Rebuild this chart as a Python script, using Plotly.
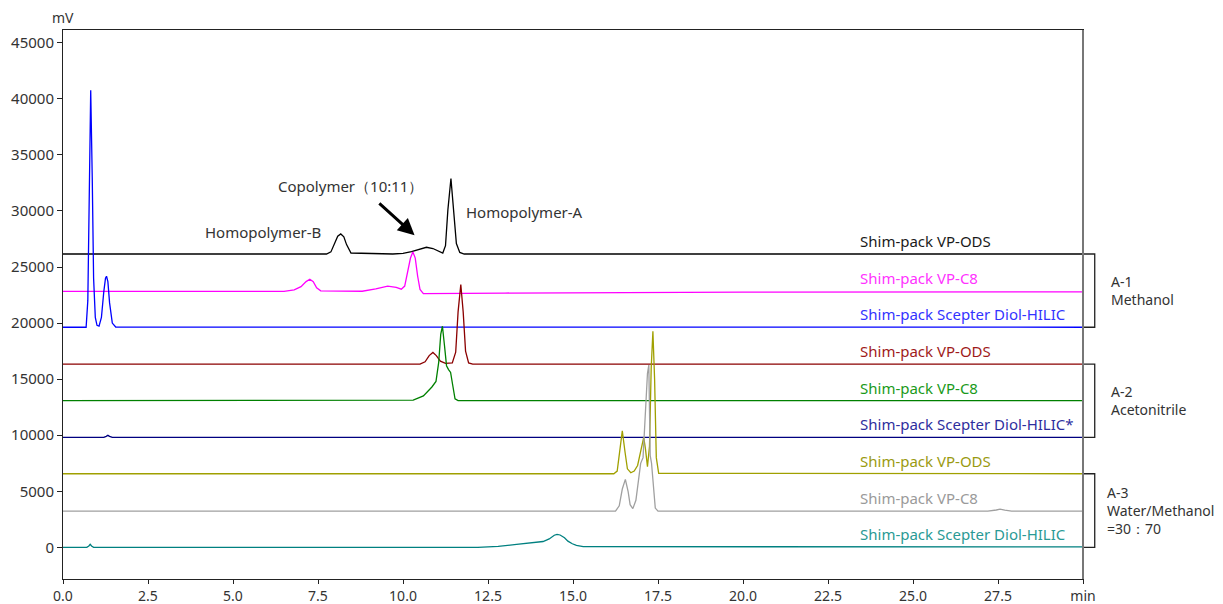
import plotly.graph_objects as go

# ---------------- data ----------------
ods_a1_t = [0, 7.75, 7.88, 8.0, 8.08, 8.17, 8.26, 8.34, 8.47, 9.7, 10.0, 10.25, 10.5, 10.69, 10.88, 11.05, 11.17,
            11.25, 11.32, 11.41, 11.5, 11.57, 11.67, 11.8, 30]
ods_a1_v = [26160, 26160, 26350, 27150, 27750, 27950, 27700, 27000, 26250, 26160, 26220, 26380, 26630, 26760, 26650,
            26380, 26250, 26900, 30100, 32890, 30000, 27100, 26300, 26160, 26160]

c8_a1_t = [0, 6.5, 6.8, 7.0, 7.15, 7.26, 7.36, 7.46, 7.58, 8.8, 9.2, 9.55, 9.8, 9.95, 10.05, 10.15, 10.22, 10.29,
           10.36, 10.43, 10.5, 10.6, 13.0, 20.0, 30]
c8_a1_v = [22820, 22830, 22960, 23250, 23700, 23910, 23700, 23150, 22880, 22840, 23050, 23290, 23180, 23020, 23300,
           24600, 25800, 26350, 25800, 24200, 23000, 22620, 22680, 22760, 22790]

diol_a1_t = [0, 0.68, 0.73, 0.77, 0.815, 0.86, 0.9, 0.95, 1.0, 1.06, 1.13, 1.2, 1.25, 1.28, 1.32, 1.37, 1.45, 1.55, 30]
diol_a1_v = [19630, 19630, 22000, 33000, 40760, 33000, 24000, 20500, 19800, 19720, 20500, 22800, 24000, 24180, 23700,
             21800, 20000, 19650, 19630]

ods_a2_t = [0, 10.5, 10.65, 10.77, 10.88, 10.98, 11.1, 11.25, 11.45, 11.55, 11.62, 11.7, 11.77, 11.84, 11.93, 12.05, 30]
ods_a2_v = [16340, 16340, 16550, 17100, 17380, 17100, 16600, 16400, 16450, 17400, 21000, 23440, 21000, 17500, 16450,
            16340, 16340]

c8_a2_t = [0, 10.0, 10.3, 10.6, 10.85, 10.97, 11.05, 11.11, 11.16, 11.22, 11.28, 11.34, 11.4, 11.46, 11.53, 11.62, 30]
c8_a2_v = [13080, 13080, 13130, 13500, 14300, 14800, 16500, 19000, 19720, 18000, 16200, 15850, 15600, 14500, 13250,
           13080, 13080]

diol_a2_t = [0, 1.2, 1.27, 1.32, 1.37, 1.45, 30]
diol_a2_v = [9800, 9800, 9900, 9990, 9900, 9800, 9800]

ods_a3_t = [0, 16.2, 16.3, 16.37, 16.45, 16.53, 16.6, 16.7, 16.8, 16.9, 16.98, 17.04, 17.08, 17.13, 17.19, 17.25,
            17.3, 17.35, 17.4, 17.45, 17.52, 30]
ods_a3_v = [6560, 6560, 6800, 8600, 10390, 8500, 7000, 6650, 6800, 7300, 8400, 9500, 9800, 8800, 7200, 9000, 16000,
            19280, 15000, 8000, 6600, 6560]

c8_a3_t = [0, 16.25, 16.36, 16.45, 16.54, 16.62, 16.68, 16.76, 16.85, 16.93, 16.99, 17.06, 17.13, 17.19, 17.23, 17.27,
           17.31, 17.36, 17.42, 17.5, 27.2, 27.45, 27.56, 27.7, 27.9, 30]
c8_a3_v = [3230, 3230, 3700, 5200, 6060, 5000, 3800, 3450, 4200, 6200, 7490, 8000, 11500, 15500, 16250, 8200, 7500,
           5500, 3500, 3230, 3230, 3330, 3400, 3320, 3230, 3230]

diol_a3_t = [0, 0.7, 0.76, 0.8, 0.84, 0.9, 12.2, 12.8, 13.34, 13.8, 14.12, 14.3, 14.45, 14.53, 14.62, 14.75, 14.85,
             14.98, 15.1, 15.3, 30]
diol_a3_v = [0, 0, 120, 270, 120, 0, 0, 80, 270, 400, 520, 750, 1080, 1160, 1100, 850, 550, 320, 170, 60, 40]

column_names = ["Shim-pack VP-ODS", "Shim-pack VP-C8", "Shim-pack Scepter Diol-HILIC",
                "Shim-pack VP-ODS", "Shim-pack VP-C8", "Shim-pack Scepter Diol-HILIC*",
                "Shim-pack VP-ODS", "Shim-pack VP-C8", "Shim-pack Scepter Diol-HILIC"]
baselines = [26160, 22820, 19630, 16340, 13080, 9800, 6560, 3230, 0]
group_labels = ["A-1<br>Methanol", "A-2<br>Acetonitrile", "A-3<br>Water/Methanol<br>=30：70"]
group_top = [26160, 16340, 6560]
group_bottom = [19630, 9800, 0]

x_ticks = [0, 2.5, 5, 7.5, 10, 12.5, 15, 17.5, 20, 22.5, 25, 27.5, 30]
x_ticktext = ["0.0", "2.5", "5.0", "7.5", "10.0", "12.5", "15.0", "17.5", "20.0", "22.5", "25.0", "27.5", "min"]
y_ticks = [0, 5000, 10000, 15000, 20000, 25000, 30000, 35000, 40000, 45000]

# ---------------- figure ----------------
series = [(ods_a1_t, ods_a1_v), (c8_a1_t, c8_a1_v), (diol_a1_t, diol_a1_v),
          (ods_a2_t, ods_a2_v), (c8_a2_t, c8_a2_v), (diol_a2_t, diol_a2_v),
          (ods_a3_t, ods_a3_v), (c8_a3_t, c8_a3_v), (diol_a3_t, diol_a3_v)]
colors = ["#000000", "#ff00ff", "#0000ff", "#8b0000", "#008000", "#000080", "#a0a000", "#a0a0a0", "#008080"]
label_colors = ["#1a1a1a", "#ff33ff", "#3333ff", "#a01a1a", "#1a9a1a", "#2e2e9e", "#9a9a10", "#9a9a9a", "#2a9a95"]

FONT = "Noto Sans"
fig = go.Figure()
for (t, v), c in zip(series, colors):
    fig.add_trace(go.Scatter(x=t, y=v, mode="lines", line=dict(color=c, width=1.3), showlegend=False,
                             hoverinfo="skip"))

annotations = []
for name, base, lc in zip(column_names, baselines, label_colors):
    annotations.append(dict(x=23.37, y=base, xref="x", yref="y", text=name, showarrow=False,
                            xanchor="left", yanchor="middle", yshift=13,
                            font=dict(family=FONT, size=15, color=lc)))

shapes = []
group_x = [1.025, 1.025, 1.022]
for lab, top, bot, gx in zip(group_labels, group_top, group_bottom, group_x):
    xb = 1.0115
    shapes.append(dict(type="path", xref="paper", yref="y",
                       path=f"M 1.0,{top} L {xb},{top} L {xb},{bot} L 1.0,{bot}",
                       line=dict(color="#222", width=1.3)))
    annotations.append(dict(x=gx, y=(top + bot) / 2, xref="paper", yref="y", text=lab, showarrow=False,
                            xanchor="left", yanchor="middle", align="left",
                            font=dict(family=FONT, size=14, color="#333")))

# peak annotations
annotations += [
    dict(x=5.89, y=28130, xref="x", yref="y", text="Homopolymer-B", showarrow=False,
         font=dict(family=FONT, size=15, color="#333")),
    dict(x=8.46, y=32200, xref="x", yref="y", text="Copolymer（10:11）", showarrow=False,
         font=dict(family=FONT, size=15, color="#333")),
    dict(x=13.58, y=29890, xref="x", yref="y", text="Homopolymer-A", showarrow=False,
         font=dict(family=FONT, size=15, color="#333")),
    dict(x=10.34, y=27840, xref="x", yref="y", ax=9.26, ay=30800, axref="x", ayref="y", text="",
         showarrow=True, arrowhead=2, arrowsize=1.1, arrowwidth=3, arrowcolor="#000"),
    dict(x=0, y=1, xref="paper", yref="paper", text="mV", showarrow=False, xanchor="center", yanchor="bottom",
         yshift=1, font=dict(family=FONT, size=14, color="#333")),
]

# right border in gray
shapes.append(dict(type="line", xref="paper", yref="paper", x0=1, x1=1, y0=0, y1=1,
                   line=dict(color="#777", width=2)))

fig.update_layout(
    width=1223, height=604,
    margin=dict(l=55, r=148, t=22, b=33, autoexpand=False),
    plot_bgcolor="white", paper_bgcolor="white",
    annotations=annotations, shapes=shapes,
    font=dict(family=FONT, size=15, color="#333"),
)
fig.update_xaxes(range=[0, 30], tickvals=x_ticks, ticktext=x_ticktext, showgrid=False, zeroline=False,
                 showline=True, mirror=True, linecolor="#222", linewidth=1, ticks="outside", ticklen=4,
                 tickcolor="#222", tickfont=dict(family=FONT, size=14, color="#333"), automargin=False)
fig.update_yaxes(range=[-2825, 46140], tickvals=y_ticks, ticktext=[str(v) for v in y_ticks], showgrid=False,
                 zeroline=False, showline=True, mirror=True, linecolor="#222", linewidth=1, ticks="outside",
                 ticklen=5, tickcolor="#222", tickfont=dict(family=FONT, size=15, color="#333"),
                 automargin=False)

fig.write_html("out.html")
